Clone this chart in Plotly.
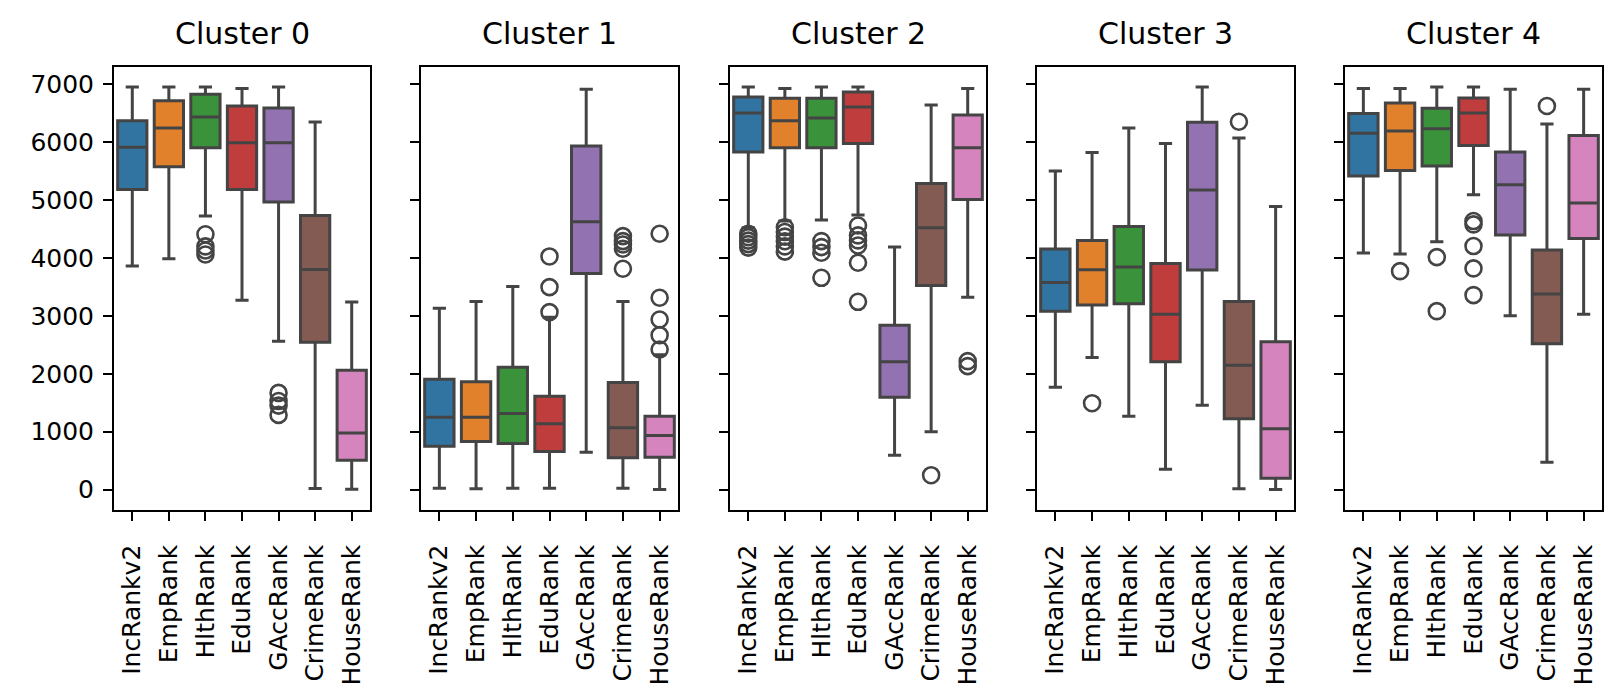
import plotly.graph_objects as go
from plotly.subplots import make_subplots

categories = ["IncRankv2", "EmpRank", "HlthRank", "EduRank", "GAccRank", "CrimeRank", "HouseRank"]
colors = ["#3274a1", "#e1812c", "#3a923a", "#c03d3e", "#9372b2", "#845b53", "#d684bd"]
clusters = ["Cluster 0", "Cluster 1", "Cluster 2", "Cluster 3", "Cluster 4"]
y_ticks = [0, 1000, 2000, 3000, 4000, 5000, 6000, 7000]

# per cluster, per category: lower whisker, Q1, median, Q3, upper whisker
c0_low = [3860, 3987, 4724, 3272, 2564, 17, 7]
c0_q1 = [5185, 5577, 5905, 5185, 4966, 2546, 508]
c0_med = [5911, 6245, 6435, 5991, 5991, 3802, 975]
c0_q3 = [6372, 6717, 6827, 6625, 6591, 4736, 2063]
c0_high = [6953, 6953, 6953, 6930, 6953, 6349, 3239]
c0_out = [[], [], [4410, 4200, 4130, 4060], [], [1670, 1530, 1450, 1290], [], []]

c1_low = [23, 12, 23, 23, 645, 24, 2]
c1_q1 = [749, 830, 795, 657, 3733, 548, 560]
c1_med = [1250, 1250, 1313, 1135, 4626, 1066, 934]
c1_q3 = [1907, 1861, 2114, 1613, 5934, 1850, 1268]
c1_high = [3134, 3249, 3508, 2978, 6913, 3249, 2330]
c1_out = [[], [], [], [4027, 3497, 3065], [], [4378, 4292, 4234, 4160, 3814], [4419, 3313, 2938, 2667, 2420]]

c2_low = [4522, 4638, 4655, 4741, 593, 997, 3324]
c2_q1 = [5830, 5905, 5905, 5980, 1596, 3526, 5012]
c2_med = [6504, 6372, 6418, 6608, 2206, 4522, 5905]
c2_q3 = [6781, 6758, 6758, 6867, 2840, 5289, 6470]
c2_high = [6953, 6930, 6953, 6953, 4188, 6642, 6930]
c2_out = [[4420, 4360, 4300, 4240, 4180], [4530, 4450, 4370, 4290, 4200, 4110],
          [4292, 4188, 4090, 3658], [4562, 4390, 4304, 4217, 3918, 3243], [], [248], [2218, 2132]]

c3_low = [1769, 2281, 1267, 351, 1458, 12, 2]
c3_q1 = [3082, 3186, 3209, 2206, 3791, 1221, 196]
c3_med = [3578, 3797, 3843, 3030, 5173, 2149, 1049]
c3_q3 = [4154, 4304, 4545, 3906, 6343, 3249, 2552]
c3_high = [5502, 5824, 6245, 5980, 6953, 6072, 4891]
c3_out = [[], [1492], [], [], [], [6354], []]

c4_low = [4085, 4067, 4280, 5093, 3001, 472, 3030]
c4_q1 = [5415, 5513, 5588, 5945, 4396, 2518, 4338]
c4_med = [6153, 6193, 6233, 6504, 5266, 3376, 4949]
c4_q3 = [6498, 6677, 6585, 6763, 5830, 4136, 6118]
c4_high = [6930, 6930, 6953, 6953, 6913, 6314, 6913]
c4_out = [[], [3773], [4015, 3082], [4638, 4580, 4206, 3820, 3359], [], [6625], []]

stats = [
    (c0_low, c0_q1, c0_med, c0_q3, c0_high, c0_out),
    (c1_low, c1_q1, c1_med, c1_q3, c1_high, c1_out),
    (c2_low, c2_q1, c2_med, c2_q3, c2_high, c2_out),
    (c3_low, c3_q1, c3_med, c3_q3, c3_high, c3_out),
    (c4_low, c4_q1, c4_med, c4_q3, c4_high, c4_out),
]

W, H = 1613, 690
panel_px = [(106, 362), (413, 670), (722, 978), (1029, 1286), (1337, 1594)]
y_dom = [(H - 501.7) / H, (H - 58.5) / H]
edge = "#444444"
font = "DejaVu Sans"

fig = make_subplots(rows=1, cols=5, shared_yaxes=False)

for p, (lo, q1, med, q3, hi, outs) in enumerate(stats):
    for i, cat in enumerate(categories):
        fig.add_trace(go.Box(
            x=[i], q1=[q1[i]], median=[med[i]], q3=[q3[i]],
            lowerfence=[lo[i]], upperfence=[hi[i]],
            boxpoints=False, width=0.8, whiskerwidth=0.45,
            fillcolor=colors[i], line=dict(color=edge, width=3),
            showlegend=False, hoverinfo="skip", name=cat,
        ), row=1, col=p + 1)
        if outs[i]:
            fig.add_trace(go.Scatter(
                x=[i] * len(outs[i]), y=outs[i], mode="markers",
                marker=dict(symbol="circle-open", size=16, color=edge,
                            line=dict(width=2.6, color=edge)),
                showlegend=False, hoverinfo="skip",
            ), row=1, col=p + 1)

for p in range(5):
    xa = "xaxis" if p == 0 else f"xaxis{p + 1}"
    ya = "yaxis" if p == 0 else f"yaxis{p + 1}"
    x0, x1 = panel_px[p]
    fig.layout[xa].update(
        domain=[x0 / W, x1 / W], range=[-0.5, 6.5],
        tickmode="array", tickvals=list(range(7)), ticktext=categories,
        tickangle=-90, ticks="outside", ticklen=9, tickwidth=2, tickcolor="black",
        ticklabelstandoff=14,
        showline=True, linecolor="black", linewidth=2, mirror=True,
        showgrid=False, zeroline=False,
        tickfont=dict(family=font, size=25, color="black"),
    )
    fig.layout[ya].update(
        domain=y_dom, range=[-348, 7308],
        tickmode="array", tickvals=y_ticks,
        ticks="outside", ticklen=9, tickwidth=2, tickcolor="black",
        ticklabelstandoff=4,
        showticklabels=(p == 0),
        showline=True, linecolor="black", linewidth=2, mirror=True,
        showgrid=False, zeroline=False,
        tickfont=dict(family=font, size=25, color="black"),
    )
    fig.add_annotation(
        text=clusters[p], xref="paper", yref="paper",
        x=(x0 + x1) / 2 / W, y=y_dom[1], xanchor="center", yanchor="bottom",
        yshift=13, showarrow=False,
        font=dict(family=font, size=30, color="black"),
    )

fig.update_layout(
    width=W, height=H, margin=dict(l=0, r=0, t=0, b=0),
    paper_bgcolor="white", plot_bgcolor="white",
    font=dict(family=font, color="black"),
)

fig.write_html("out.html")
